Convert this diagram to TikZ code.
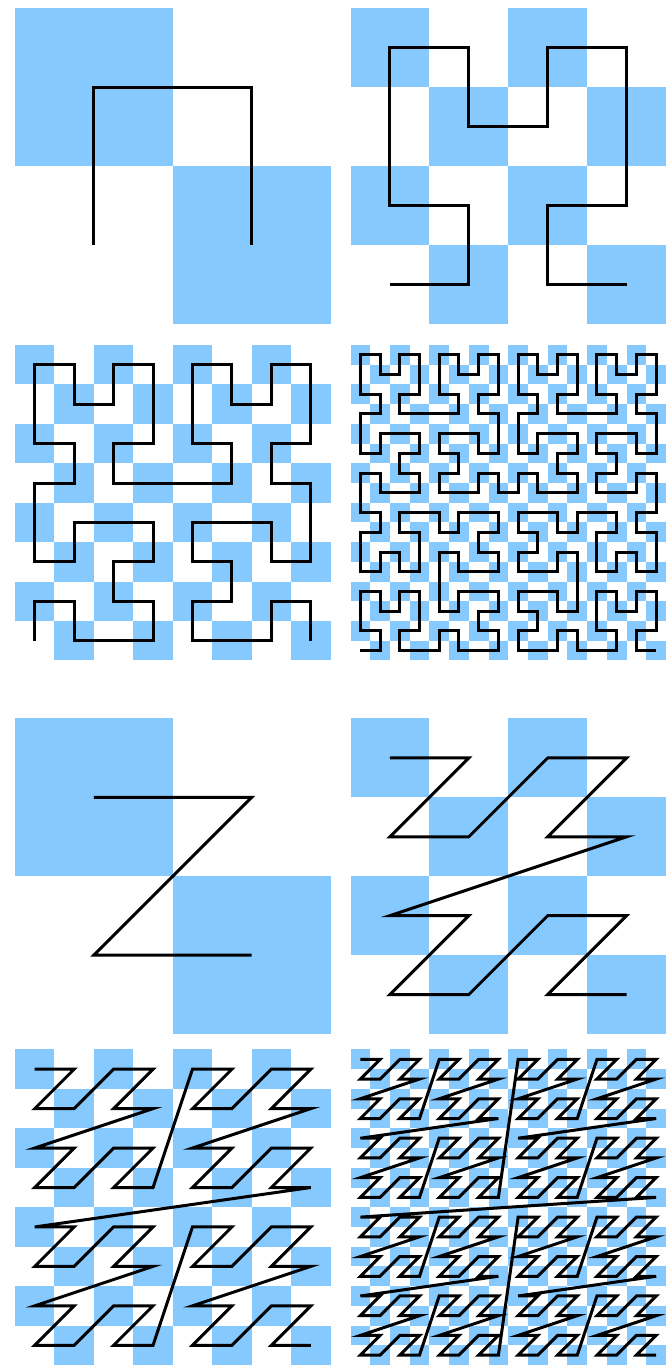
\documentclass[tikz,border=0pt]{standalone}
\usetikzlibrary{lindenmayersystems}

\definecolor{cellblue}{RGB}{133,201,255}

\pgfdeclarelindenmayersystem{Hilbert curve}{
  \rule{L -> +RF-LFL-FR+}
  \rule{R -> -LF+RFR+FL-}}

% checkerboard, #1 #2 lower left corner, #3 cells per side
\newcommand\checker[3]{%
  \pgfmathsetmacro\cs{315.5/#3}
  \pgfmathtruncatemacro\m{#3-1}
  \foreach \i in {0,...,\m} \foreach \j in {0,...,\m} {
    \pgfmathtruncatemacro\odd{mod(\i+\j,2)}
    \ifnum\odd=1 \fill[cellblue] (#1+\i*\cs,#2+\j*\cs) rectangle ++(\cs,\cs);\fi
  }}

% hilbert curve of order #3
\newcommand\hilbert[3]{%
  \pgfmathtruncatemacro\nn{2^#3}
  \pgfmathsetmacro\cs{315.5/\nn}
  \checker{#1}{#2}{\nn}
  \begin{scope}[shift={(#1+\cs/2,#2+\cs/2)}]
    \draw[curveline, l-system={Hilbert curve, axiom=L, order=#3, step=\cs bp, angle=90}]
      lindenmayer system;
  \end{scope}}

% z-order curve of order #3
\newcommand\zorder[3]{%
  \pgfmathtruncatemacro\nn{2^#3}
  \pgfmathsetmacro\cs{315.5/\nn}
  \checker{#1}{#2}{\nn}
  \pgfmathtruncatemacro\last{4^#3-1}
  \foreach \d in {0,...,\last} {
    \pgfmathtruncatemacro\cx{mod(\d,2)+2*mod(floor(\d/4),2)+4*mod(floor(\d/16),2)+8*mod(floor(\d/64),2)}
    \pgfmathtruncatemacro\cy{mod(floor(\d/2),2)+2*mod(floor(\d/8),2)+4*mod(floor(\d/32),2)+8*mod(floor(\d/128),2)}
    \pgfmathsetmacro\px{#1+(\cx+0.5)*\cs}
    \pgfmathsetmacro\py{#2+315.5-(\cy+0.5)*\cs}
    \ifnum\d=0 \xdef\zpts{(\px,\py)}\else\xdef\zpts{\zpts -- (\px,\py)}\fi
  }
  \edef\zdraw{\noexpand\draw[curveline] \zpts;}\zdraw}

\begin{document}
\begin{tikzpicture}[x=1bp,y=1bp,curveline/.style={black,line width=3bp}]
  \useasboundingbox (0,0) rectangle (666,1365);
  % hilbert
  \hilbert{15}{1041}{1}
  \hilbert{350.5}{1041}{2}
  \hilbert{15}{704.5}{3}
  \hilbert{350.5}{704.5}{4}
  % z-order
  \zorder{15}{331}{1}
  \zorder{350.5}{331}{2}
  \zorder{15}{0}{3}
  \zorder{350.5}{0}{4}
\end{tikzpicture}
\end{document}
